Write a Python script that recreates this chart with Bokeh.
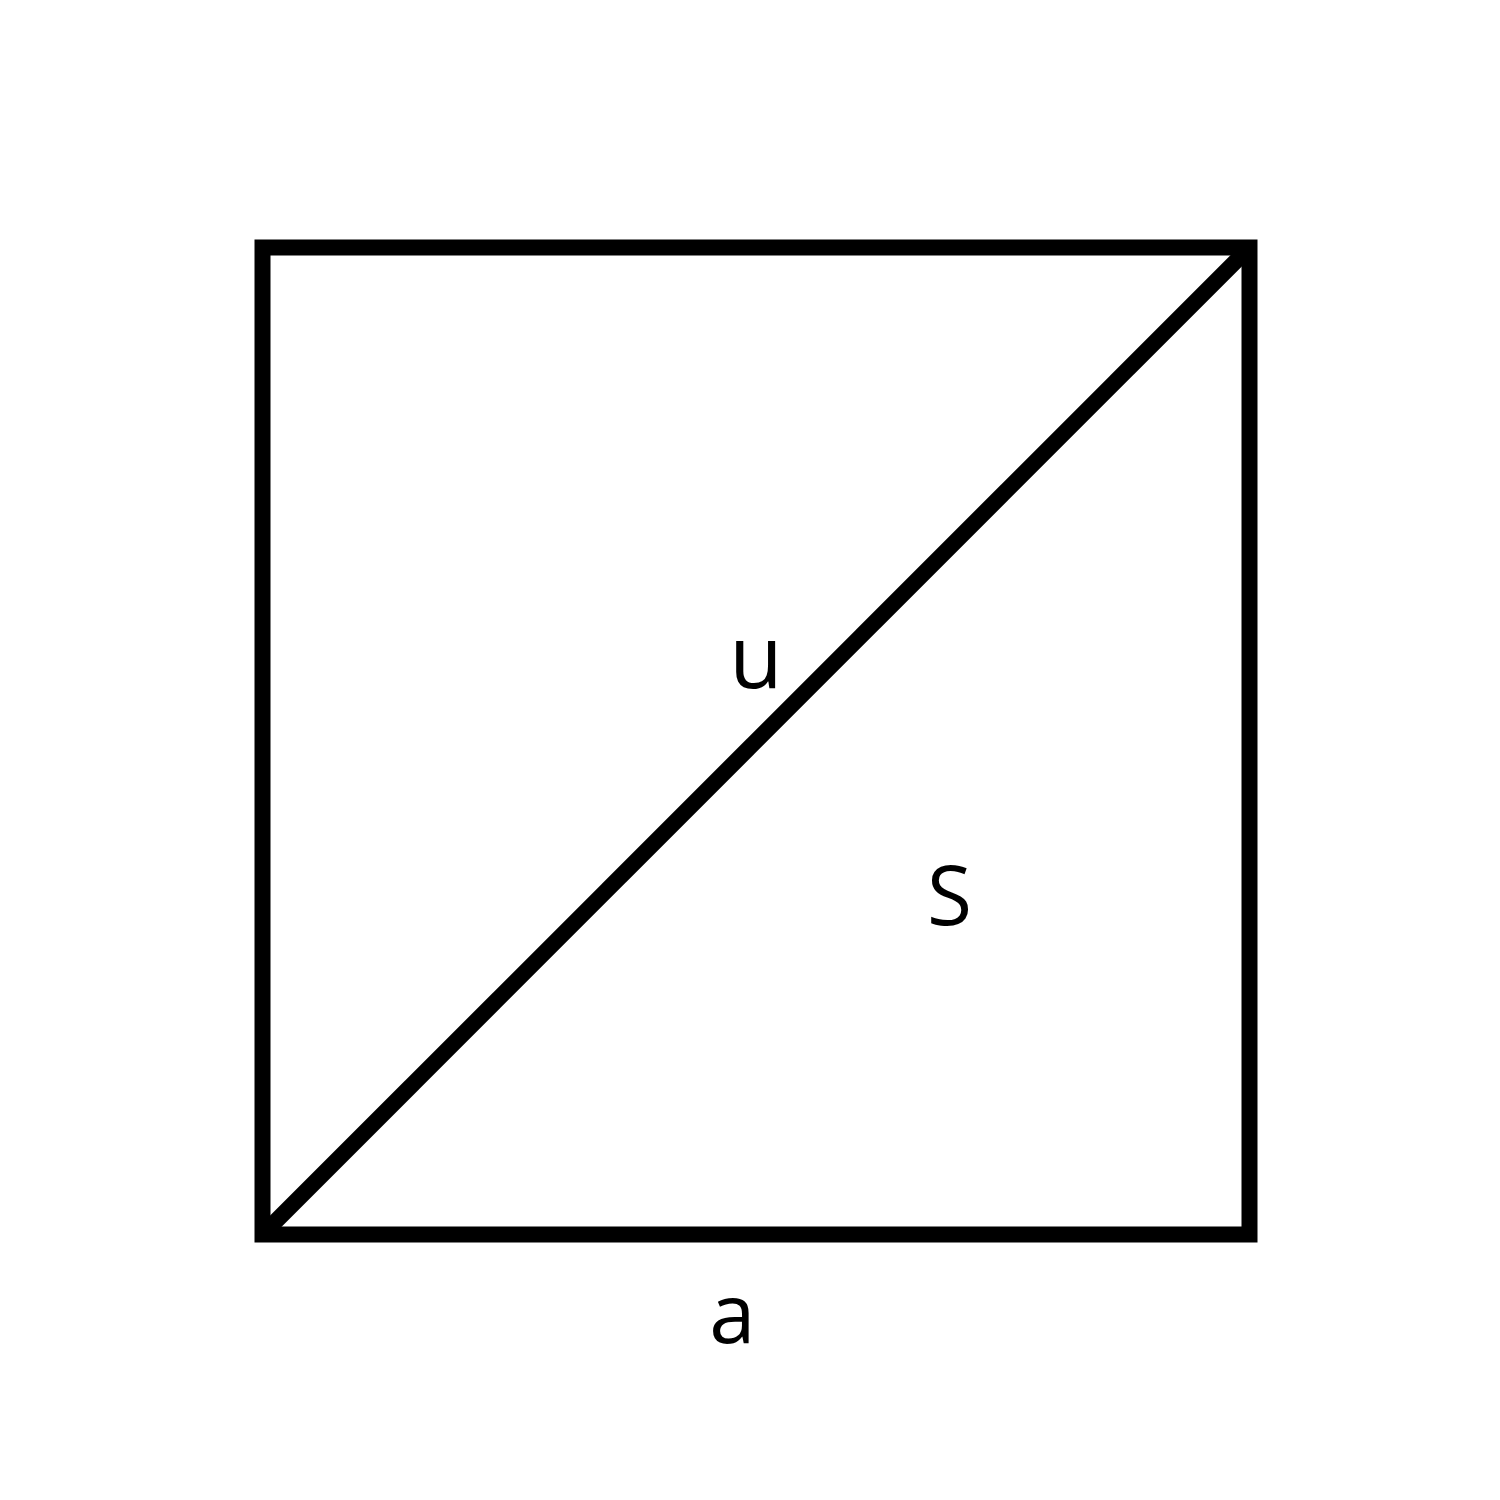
from bokeh.plotting import figure
from bokeh.models import Range1d
from bokeh.core.properties import value
from bokeh.embed import file_html
from bokeh.resources import INLINE

# square of side a = 1, drawn corner to corner
square_x = [0, 1, 1, 0]
square_y = [0, 0, 1, 1]
diag_x = [0, 1]
diag_y = [0, 1]

labels = ["u", "S", "a"]
label_x = [0.5, 0.696, 0.476]
label_y = [0.588, 0.346, -0.077]
label_size = ["87px", "82px", "83px"]

# 1 unit of side length = 987 screen px
SCALE = 987.0
p = figure(width=1484, height=1484, output_backend="svg", toolbar_location=None,
           x_range=Range1d(-262 / SCALE, (1484 - 262) / SCALE),
           y_range=Range1d(-250 / SCALE, (1484 - 250) / SCALE),
           min_border=0)
p.axis.visible = False
p.grid.visible = False
p.outline_line_color = None

p.patch(square_x, square_y, fill_alpha=0, line_width=16, line_color="black",
        line_join="miter")
p.line(diag_x, diag_y, line_width=16, line_color="black")

for t, x, y, s in zip(labels, label_x, label_y, label_size):
    p.text(x=[x], y=[y], text=[t], text_font=value("Open Sans"),
           text_font_size=s, text_align="center", text_baseline="alphabetic",
           text_color="black")

open("out.html", "w").write(file_html(p, INLINE))
